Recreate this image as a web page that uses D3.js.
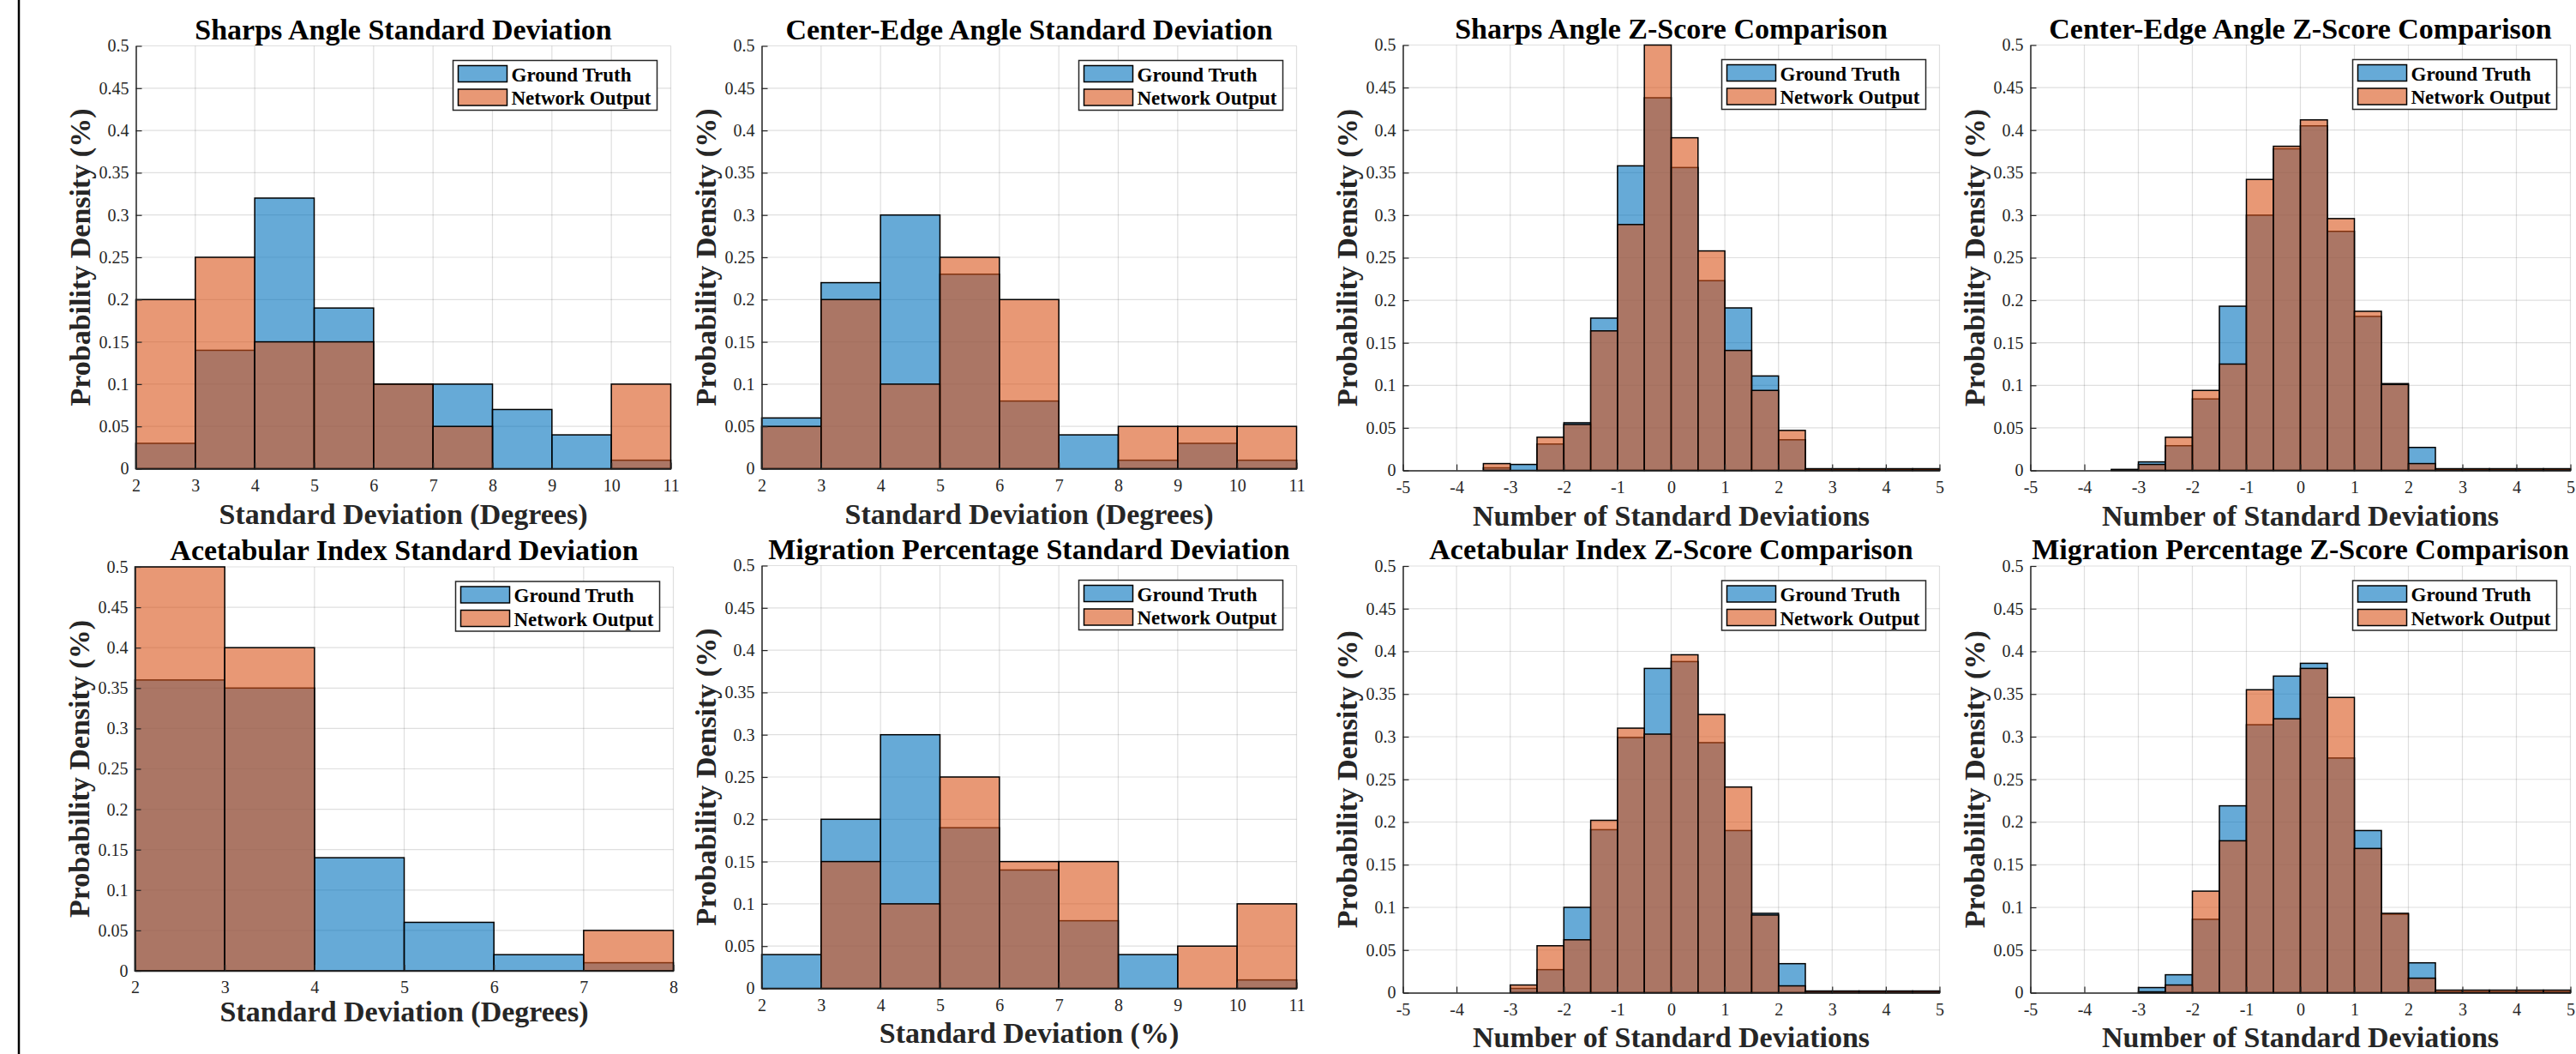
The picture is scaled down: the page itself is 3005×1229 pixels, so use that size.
<!DOCTYPE html>
<html>
<head>
  <script src="https://d3js.org/d3.v7.min.js"></script>
  <title>Standard Deviation and Z-Score Histograms</title>
  <style>
    body { margin: 0; background: #fff; }
    svg { display: block; font-family: "Liberation Serif", "Times New Roman", serif; }
    .tick text { font-size: 20px; fill: #262626; }
    .title { font-size: 34px; font-weight: bold; fill: #000; }
    .axis-label { font-size: 34px; font-weight: bold; fill: #262626; }
    .legend-text { font-size: 23px; font-weight: bold; fill: #000; }
  </style>
</head>
<body>
<div id="chart"></div>
<script>
// ---- data (probability density per bin) ----
var yTicks = [0, 0.05, 0.1, 0.15, 0.2, 0.25, 0.3, 0.35, 0.4, 0.45, 0.5];
var yTickLabels = ["0", "0.05", "0.1", "0.15", "0.2", "0.25", "0.3", "0.35", "0.4", "0.45", "0.5"];

var sdEdges = [2, 3, 4, 5, 6, 7, 8, 9, 10, 11];
var sdTicks = [2, 3, 4, 5, 6, 7, 8, 9, 10, 11];
var aiEdges = [2, 3, 4, 5, 6, 7, 8];
var aiTicks = [2, 3, 4, 5, 6, 7, 8];
var zEdges = [-5, -4.5, -4, -3.5, -3, -2.5, -2, -1.5, -1, -0.5, 0, 0.5, 1, 1.5, 2, 2.5, 3, 3.5, 4, 4.5, 5];
var zTicks = [-5, -4, -3, -2, -1, 0, 1, 2, 3, 4, 5];
var zTickLabels = ["-5", "-4", "-3", "-2", "-1", "0", "1", "2", "3", "4", "5"];

var sharpsSdTruth  = [0.03, 0.14, 0.32, 0.19, 0.10, 0.10, 0.07, 0.04, 0.01];
var sharpsSdOutput = [0.20, 0.25, 0.15, 0.15, 0.10, 0.05, 0.00, 0.00, 0.10];

var ceSdTruth  = [0.06, 0.22, 0.30, 0.23, 0.08, 0.04, 0.01, 0.03, 0.01];
var ceSdOutput = [0.05, 0.20, 0.10, 0.25, 0.20, 0.00, 0.05, 0.05, 0.05];

var aiSdTruth  = [0.36, 0.35, 0.14, 0.06, 0.02, 0.01];
var aiSdOutput = [0.50, 0.40, 0.00, 0.00, 0.00, 0.05];

var mpSdTruth  = [0.04, 0.20, 0.30, 0.19, 0.14, 0.08, 0.04, 0.00, 0.01];
var mpSdOutput = [0.00, 0.15, 0.10, 0.25, 0.15, 0.15, 0.00, 0.05, 0.10];

var sharpsZTruth  = [0, 0, 0, 0.003, 0.007, 0.031, 0.056, 0.179, 0.358, 0.438, 0.356, 0.223, 0.191, 0.111, 0.036, 0.001, 0.001, 0.001, 0.001, 0.001];
var sharpsZOutput = [0, 0, 0, 0.008, 0.000, 0.039, 0.054, 0.164, 0.289, 0.500, 0.391, 0.258, 0.141, 0.094, 0.047, 0.002, 0.002, 0.002, 0.002, 0.002];

var ceZTruth  = [0, 0, 0, 0.001, 0.010, 0.029, 0.084, 0.193, 0.300, 0.378, 0.405, 0.281, 0.181, 0.102, 0.027, 0.001, 0.001, 0.001, 0.001, 0.001];
var ceZOutput = [0, 0, 0, 0.001, 0.007, 0.039, 0.094, 0.125, 0.342, 0.381, 0.412, 0.296, 0.187, 0.101, 0.008, 0.002, 0.002, 0.002, 0.002, 0.002];

var aiZTruth  = [0, 0, 0, 0, 0.005, 0.027, 0.100, 0.191, 0.299, 0.380, 0.388, 0.293, 0.190, 0.093, 0.034, 0.001, 0.001, 0.001, 0.001, 0.001];
var aiZOutput = [0, 0, 0, 0, 0.009, 0.055, 0.062, 0.202, 0.310, 0.303, 0.396, 0.326, 0.241, 0.091, 0.008, 0.002, 0.002, 0.002, 0.002, 0.002];

var mpZTruth  = [0, 0, 0, 0, 0.006, 0.021, 0.086, 0.219, 0.314, 0.371, 0.386, 0.275, 0.190, 0.092, 0.035, 0.001, 0.001, 0.001, 0.001, 0.001];
var mpZOutput = [0, 0, 0, 0, 0.001, 0.009, 0.119, 0.178, 0.355, 0.321, 0.380, 0.346, 0.169, 0.093, 0.017, 0.003, 0.003, 0.003, 0.003, 0.003];

var seriesNames = ["Ground Truth", "Network Output"];
var seriesColors = ["#0072bd", "#d95319"];

// ---- panels: text + layout ----
var panels = [
  { title: "Sharps Angle Standard Deviation", xlabel: "Standard Deviation (Degrees)",
    edges: sdEdges, ticks: sdTicks, labels: null, truth: sharpsSdTruth, output: sharpsSdOutput,
    x: 158.5, y: 53.5, w: 624, h: 493, xlab: 64 },
  { title: "Center-Edge Angle Standard Deviation", xlabel: "Standard Deviation (Degrees)",
    edges: sdEdges, ticks: sdTicks, labels: null, truth: ceSdTruth, output: ceSdOutput,
    x: 888.5, y: 53.5, w: 624, h: 493, xlab: 64 },
  { title: "Sharps Angle Z-Score Comparison", xlabel: "Number of Standard Deviations",
    edges: zEdges, ticks: zTicks, labels: zTickLabels, truth: sharpsZTruth, output: sharpsZOutput,
    x: 1636.5, y: 52.5, w: 626, h: 496, xlab: 64 },
  { title: "Center-Edge Angle Z-Score Comparison", xlabel: "Number of Standard Deviations",
    edges: zEdges, ticks: zTicks, labels: zTickLabels, truth: ceZTruth, output: ceZOutput,
    x: 2368.5, y: 52.5, w: 630, h: 496, xlab: 64 },
  { title: "Acetabular Index Standard Deviation", xlabel: "Standard Deviation (Degrees)",
    edges: aiEdges, ticks: aiTicks, labels: null, truth: aiSdTruth, output: aiSdOutput,
    x: 157.5, y: 661, w: 628, h: 471, xlab: 59 },
  { title: "Migration Percentage Standard Deviation", xlabel: "Standard Deviation (%)",
    edges: sdEdges, ticks: sdTicks, labels: null, truth: mpSdTruth, output: mpSdOutput,
    x: 888.5, y: 659.5, w: 624, h: 493, xlab: 63 },
  { title: "Acetabular Index Z-Score Comparison", xlabel: "Number of Standard Deviations",
    edges: zEdges, ticks: zTicks, labels: zTickLabels, truth: aiZTruth, output: aiZOutput,
    x: 1636.5, y: 660, w: 626, h: 497.5, xlab: 63 },
  { title: "Migration Percentage Z-Score Comparison", xlabel: "Number of Standard Deviations",
    edges: zEdges, ticks: zTicks, labels: zTickLabels, truth: mpZTruth, output: mpZOutput,
    x: 2368.5, y: 660, w: 630, h: 497.5, xlab: 63 }
];

var svg = d3.select("#chart").append("svg")
  .attr("width", 3005)
  .attr("height", 1229);

svg.append("rect").attr("width", 3005).attr("height", 1229).attr("fill", "#fff");

// black rule down the left side of the figure
svg.append("line")
  .attr("x1", 22).attr("x2", 22).attr("y1", 0).attr("y2", 1229)
  .attr("stroke", "#000").attr("stroke-width", 2.5);

panels.forEach(function(p) {
  var g = svg.append("g").attr("transform", "translate(" + p.x + "," + p.y + ")");

  var xScale = d3.scaleLinear()
    .domain([p.edges[0], p.edges[p.edges.length - 1]])
    .range([0, p.w]);
  var yScale = d3.scaleLinear().domain([0, 0.5]).range([p.h, 0]);

  // grid
  g.append("g").selectAll("line").data(p.ticks).enter().append("line")
    .attr("x1", function(d) { return xScale(d); })
    .attr("x2", function(d) { return xScale(d); })
    .attr("y1", 0).attr("y2", p.h)
    .attr("stroke", "#262626").attr("stroke-opacity", 0.15).attr("stroke-width", 1.2);
  g.append("g").selectAll("line").data(yTicks).enter().append("line")
    .attr("y1", function(d) { return yScale(d); })
    .attr("y2", function(d) { return yScale(d); })
    .attr("x1", 0).attr("x2", p.w)
    .attr("stroke", "#262626").attr("stroke-opacity", 0.15).attr("stroke-width", 1.2);

  // histogram bars: ground truth first, network output drawn over it
  [p.truth, p.output].forEach(function(vals, s) {
    g.append("g").selectAll("rect").data(vals).enter().append("rect")
      .attr("x", function(d, i) { return xScale(p.edges[i]); })
      .attr("width", function(d, i) { return xScale(p.edges[i + 1]) - xScale(p.edges[i]); })
      .attr("y", function(d) { return yScale(Math.min(d, 0.5)); })
      .attr("height", function(d) { return p.h - yScale(Math.min(d, 0.5)); })
      .attr("fill", seriesColors[s])
      .attr("fill-opacity", 0.6)
      .attr("stroke", "#000")
      .attr("stroke-width", 1.5);
  });

  // axes
  var xAxis = d3.axisBottom(xScale)
    .tickValues(p.ticks)
    .tickSizeInner(-7).tickSizeOuter(0).tickPadding(12)
    .tickFormat(function(d, i) { return p.labels ? p.labels[i] : String(d); });
  var yAxis = d3.axisLeft(yScale)
    .tickValues(yTicks)
    .tickSizeInner(-7).tickSizeOuter(0).tickPadding(8)
    .tickFormat(function(d, i) { return yTickLabels[i]; });

  var gx = g.append("g").attr("transform", "translate(0," + p.h + ")").call(xAxis);
  var gy = g.append("g").call(yAxis);
  [gx, gy].forEach(function(a) {
    a.attr("font-family", null).attr("font-size", null);
    a.select(".domain").attr("stroke", "#262626").attr("stroke-width", 1.5);
    a.selectAll(".tick line").attr("stroke", "#262626").attr("stroke-width", 1.2);
  });

  // title and labels
  g.append("text").attr("class", "title")
    .attr("x", p.w / 2).attr("y", -8)
    .attr("text-anchor", "middle")
    .text(p.title);

  g.append("text").attr("class", "axis-label")
    .attr("x", p.w / 2).attr("y", p.h + p.xlab)
    .attr("text-anchor", "middle")
    .text(p.xlabel);

  g.append("text").attr("class", "axis-label")
    .attr("transform", "rotate(-90)")
    .attr("x", -p.h / 2).attr("y", -54)
    .attr("text-anchor", "middle")
    .text("Probability Density (%)");

  // legend
  var lg = g.append("g").attr("transform", "translate(" + (p.w - 16 - 238) + ",17)");
  lg.append("rect")
    .attr("width", 238).attr("height", 58)
    .attr("fill", "#fff").attr("stroke", "#262626").attr("stroke-width", 1.5);
  seriesNames.forEach(function(name, i) {
    lg.append("rect")
      .attr("x", 6).attr("y", 6 + i * 27.5)
      .attr("width", 57).attr("height", 19)
      .attr("fill", seriesColors[i]).attr("fill-opacity", 0.6)
      .attr("stroke", "#000").attr("stroke-width", 1.5);
    lg.append("text").attr("class", "legend-text")
      .attr("x", 68).attr("y", 24 + i * 27.5)
      .text(name);
  });
});
</script>
</body>
</html>
